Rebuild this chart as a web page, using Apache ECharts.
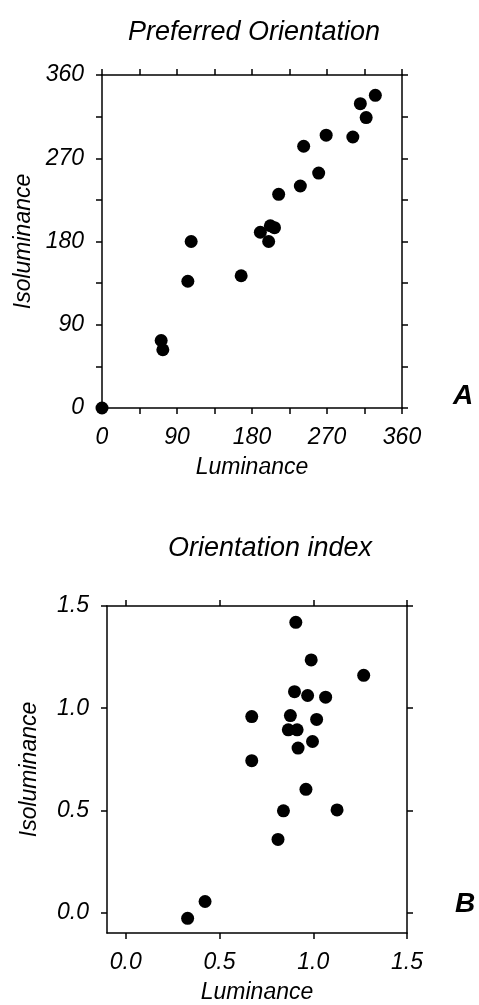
<!DOCTYPE html>
<html>
<head>
<meta charset="utf-8">
<script src="https://cdn.jsdelivr.net/npm/echarts@6/dist/echarts.min.js"></script>
<style>
html,body{margin:0;padding:0;background:#fff;}
#chart{width:479px;height:1005px;}
</style>
</head>
<body>
<div id="chart"></div>
<script>
// Panel A: Preferred Orientation (degrees)
const prefLuminance    = [0, 71, 73, 103, 107, 167, 190, 200, 202, 207, 212, 238, 242, 260, 269, 301, 310, 317, 328];
const prefIsoluminance = [0, 73, 63, 137, 180, 143, 190, 180, 197, 195, 231, 240, 283, 254, 295, 293, 329, 314, 338];
const prefTicks  = [0, 45, 90, 135, 180, 225, 270, 315, 360];
const prefLabels = [0, 90, 180, 270, 360];

// Panel B: Orientation index
const idxLuminance    = [0.907, 0.989, 1.269, 0.900, 0.970, 1.066, 0.672, 0.878, 1.018, 0.867, 0.914, 0.996, 0.919, 0.672, 0.961, 0.841, 1.127, 0.812, 0.423, 0.330];
const idxIsoluminance = [1.420, 1.236, 1.161, 1.081, 1.062, 1.054, 0.959, 0.964, 0.945, 0.894, 0.894, 0.837, 0.805, 0.743, 0.603, 0.498, 0.502, 0.358, 0.054, -0.028];
const idxTicks  = [0, 0.5, 1.0, 1.5];
const idxLabels = [0, 0.5, 1.0, 1.5];

const titles = ['Preferred Orientation', 'Orientation index'];
const panelLetters = ['A', 'B'];

const FONT = '"Liberation Sans", Arial, sans-serif';
const lineStyle = {color: '#000', width: 1.5};
const labelStyle = {color: '#000', fontFamily: FONT, fontStyle: 'italic', fontSize: 23};
const nameStyle = {color: '#000', fontFamily: FONT, fontStyle: 'italic', fontSize: 23};

function mainAxis(gridIndex, position, min, max, ticks, labels, fmt, name, nameGap) {
  return {
    type: 'value', gridIndex, position, min, max,
    axisLine: {show: true, onZero: false, lineStyle},
    axisTick: {show: true, inside: false, length: 6, lineStyle, customValues: ticks},
    axisLabel: Object.assign({show: true, margin: 18, customValues: labels, formatter: fmt}, labelStyle),
    splitLine: {show: false},
    name, nameLocation: 'middle', nameGap, nameTextStyle: nameStyle
  };
}
function sideAxis(gridIndex, position, min, max, ticks) {
  return {
    type: 'value', gridIndex, position, min, max,
    axisLine: {show: true, onZero: false, lineStyle},
    axisTick: {show: true, inside: false, length: 6, lineStyle, customValues: ticks},
    axisLabel: {show: false},
    splitLine: {show: false}
  };
}

const fmtA = v => String(Math.round(v));
const fmtB = v => Number(v).toFixed(1);

const option = {
  backgroundColor: '#fff',
  animation: false,
  title: [
    {text: titles[0], left: 249, top: 14, textAlign: 'center',
     textStyle: {color: '#000', fontFamily: FONT, fontStyle: 'italic', fontWeight: 'normal', fontSize: 27}},
    {text: titles[1], left: 265, top: 530, textAlign: 'center',
     textStyle: {color: '#000', fontFamily: FONT, fontStyle: 'italic', fontWeight: 'normal', fontSize: 27}}
  ],
  grid: [
    {left: 102, top: 75, width: 300, height: 333},
    {left: 107, top: 606, width: 300, height: 327}
  ],
  xAxis: [
    mainAxis(0, 'bottom', 0, 360, prefTicks, prefLabels, fmtA, 'Luminance', 48),
    sideAxis(0, 'top', 0, 360, prefTicks),
    mainAxis(1, 'bottom', -0.1, 1.5, idxTicks, idxLabels, fmtB, 'Luminance', 48),
    sideAxis(1, 'top', -0.1, 1.5, idxTicks)
  ],
  yAxis: [
    mainAxis(0, 'left', 0, 360, prefTicks, prefLabels, fmtA, 'Isoluminance', 61),
    sideAxis(0, 'right', 0, 360, prefTicks),
    mainAxis(1, 'left', -0.1, 1.5, idxTicks, idxLabels, fmtB, 'Isoluminance', 66),
    sideAxis(1, 'right', -0.1, 1.5, idxTicks)
  ],
  graphic: [
    {type: 'text', left: 453, top: 382, style: {text: panelLetters[0], fill: '#000', font: 'italic bold 28px ' + FONT}},
    {type: 'text', left: 455, top: 890, style: {text: panelLetters[1], fill: '#000', font: 'italic bold 28px ' + FONT}}
  ],
  series: [
    {type: 'scatter', xAxisIndex: 0, yAxisIndex: 0, symbol: 'circle', symbolSize: 13, clip: false,
     itemStyle: {color: '#000', opacity: 1}, data: prefLuminance.map((x, i) => [x, prefIsoluminance[i]])},
    {type: 'scatter', xAxisIndex: 2, yAxisIndex: 2, symbol: 'circle', symbolSize: 13, clip: false,
     itemStyle: {color: '#000', opacity: 1}, data: idxLuminance.map((x, i) => [x, idxIsoluminance[i]])}
  ]
};

const chart = echarts.init(document.getElementById('chart'), null, {renderer: 'canvas'});
chart.setOption(option);
</script>
</body>
</html>
